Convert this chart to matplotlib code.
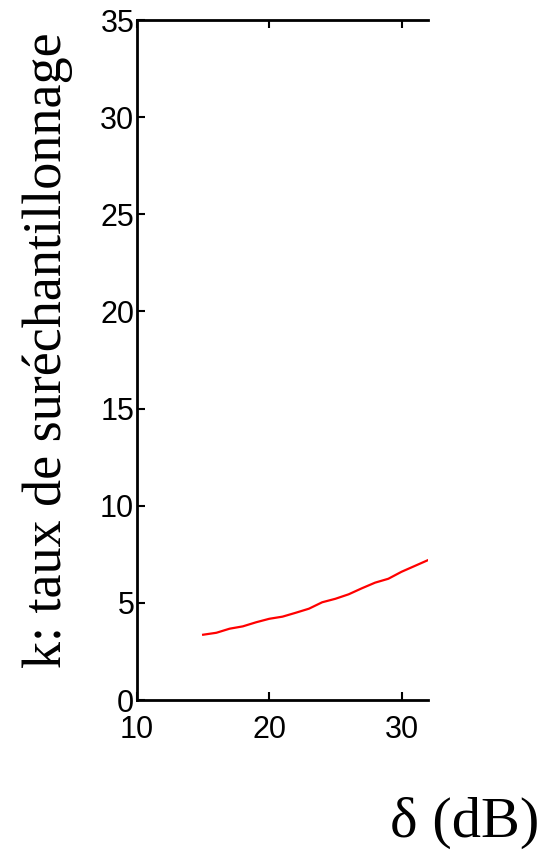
import matplotlib
matplotlib.use("Agg")
import matplotlib.pyplot as plt

delta_db = [15, 16, 17, 18, 19, 20, 21, 22, 23, 24, 25, 26, 27, 28, 29, 30, 31, 32]
k_rate = [3.36, 3.46, 3.67, 3.79, 4.00, 4.18, 4.29, 4.49, 4.70, 5.03, 5.21, 5.44,
          5.75, 6.04, 6.24, 6.60, 6.90, 7.20]
x_ticks = [10, 20, 30]
y_ticks = [0, 5, 10, 15, 20, 25, 30, 35]

fig = plt.figure(figsize=(5.51, 8.6), dpi=100)
ax = fig.add_axes([137/551, 1-700/860, (428-137)/551, 680/860])
ax.plot(delta_db, k_rate, color="red", lw=1.6)
ax.set_xlim(10, 32)
ax.set_ylim(0, 35)
ax.set_xticks(x_ticks)
ax.set_yticks(y_ticks)
ax.spines["right"].set_visible(False)
for s in ["left", "bottom", "top"]:
    ax.spines[s].set_linewidth(2.0)
ax.tick_params(axis="both", direction="in", length=6, width=1.5,
               labelsize=22, top=True, right=False)
ax.tick_params(axis="y", pad=2)
ax.tick_params(axis="x", pad=11)
for lab in ax.get_xticklabels() + ax.get_yticklabels():
    lab.set_family(["Liberation Sans Narrow", "Liberation Sans"])

fig.text(48/551, 1-350/860, "k: taux de suréchantillonnage", rotation=90,
         ha="center", va="center", family="Liberation Serif", fontsize=39)
fig.text(465/551, 1-823/860, "δ (dB)", ha="center", va="center",
         family="Liberation Serif", fontsize=42)
fig.savefig("out.png", dpi=100)
